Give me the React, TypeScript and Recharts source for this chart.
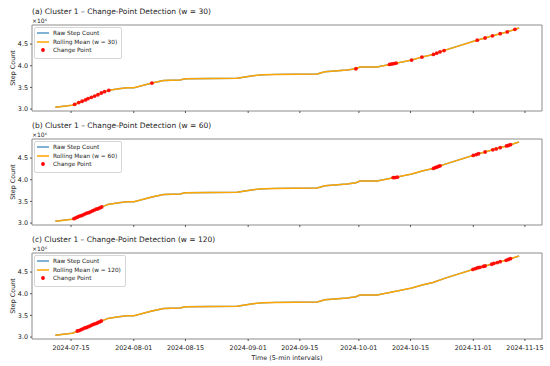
import { ComposedChart, Line, Scatter, XAxis, YAxis, ReferenceArea, Legend } from 'recharts';

const FONT = '"DejaVu Sans", sans-serif';
const RAW_COLOR = '#1f77b4';
const MEAN_COLOR = '#ffa500';
const CP_COLOR = '#ff0000';

// cumulative step count
const stepTimes = [
  '2024-07-10T18:00', '2024-07-15T07:00', '2024-07-15T17:00', '2024-07-25T00:00', '2024-07-27T22:00',
  '2024-07-30T05:00', '2024-08-01T00:00', '2024-08-05T22:00', '2024-08-09T02:00', '2024-08-13T12:00',
  '2024-08-15T00:00', '2024-08-29T00:00', '2024-09-02T07:00', '2024-09-05T00:00', '2024-09-08T07:00',
  '2024-09-19T17:00', '2024-09-21T19:00', '2024-09-27T19:00', '2024-09-30T05:00', '2024-10-01T07:00',
  '2024-10-05T22:00', '2024-10-09T10:00', '2024-10-15T07:00', '2024-10-18T02:00', '2024-10-21T02:00',
  '2024-10-24T10:00', '2024-11-02T00:00', '2024-11-04T05:00', '2024-11-06T05:00', '2024-11-08T07:00',
  '2024-11-10T05:00', '2024-11-12T07:00', '2024-11-13T10:00',
];
const stepCounts = [
  3040000, 3090000, 3100000, 3430000, 3470000,
  3490000, 3490000, 3600000, 3660000, 3670000,
  3700000, 3710000, 3770000, 3790000, 3800000,
  3810000, 3860000, 3900000, 3930000, 3970000,
  3970000, 4030000, 4130000, 4200000, 4260000,
  4360000, 4590000, 4640000, 4690000, 4740000,
  4780000, 4840000, 4870000,
];

const cp30Times = [
  '2024-07-16T00:00', '2024-07-17T02:00', '2024-07-18T00:00', '2024-07-18T22:00', '2024-07-19T14:00',
  '2024-07-20T12:00', '2024-07-21T10:00', '2024-07-22T07:00', '2024-07-23T05:00', '2024-07-24T02:00',
  '2024-07-25T05:00', '2024-08-05T22:00', '2024-09-30T05:00', '2024-10-09T07:00', '2024-10-09T22:00',
  '2024-10-10T12:00', '2024-10-11T02:00', '2024-10-15T07:00', '2024-10-18T02:00', '2024-10-21T05:00',
  '2024-10-22T02:00', '2024-10-23T00:00', '2024-10-24T02:00', '2024-11-02T02:00', '2024-11-04T05:00',
  '2024-11-06T05:00', '2024-11-08T07:00', '2024-11-10T05:00', '2024-11-12T07:00',
];
const cp30Values = [
  3110000, 3150000, 3180000, 3210000, 3240000,
  3270000, 3300000, 3330000, 3370000, 3400000,
  3430000, 3600000, 3930000, 4030000, 4040000,
  4050000, 4060000, 4130000, 4200000, 4260000,
  4290000, 4320000, 4350000, 4590000, 4640000,
  4690000, 4740000, 4780000, 4840000,
];

const cp60Times = [
  '2024-07-15T19:00', '2024-07-16T07:00', '2024-07-16T19:00', '2024-07-17T07:00', '2024-07-17T19:00',
  '2024-07-18T07:00', '2024-07-18T19:00', '2024-07-19T07:00', '2024-07-19T19:00', '2024-07-20T07:00',
  '2024-07-20T19:00', '2024-07-21T07:00', '2024-07-21T19:00', '2024-07-22T07:00', '2024-07-22T19:00',
  '2024-07-23T07:00', '2024-10-10T07:00', '2024-10-10T19:00', '2024-10-11T10:00', '2024-10-21T05:00',
  '2024-10-21T17:00', '2024-10-22T02:00', '2024-10-22T14:00', '2024-10-23T00:00', '2024-11-01T00:00',
  '2024-11-01T19:00', '2024-11-02T10:00', '2024-11-04T05:00', '2024-11-06T07:00', '2024-11-07T05:00',
  '2024-11-08T07:00', '2024-11-10T00:00', '2024-11-10T12:00', '2024-11-11T02:00',
];
const cp60Values = [
  3100000, 3120000, 3140000, 3160000, 3170000,
  3190000, 3210000, 3230000, 3240000, 3260000,
  3280000, 3300000, 3320000, 3330000, 3350000,
  3370000, 4050000, 4050000, 4060000, 4260000,
  4280000, 4290000, 4310000, 4320000, 4560000,
  4580000, 4600000, 4640000, 4690000, 4710000,
  4740000, 4780000, 4790000, 4810000,
];

const cp120Times = [
  '2024-07-16T17:00', '2024-07-17T05:00', '2024-07-17T17:00', '2024-07-18T05:00', '2024-07-18T17:00',
  '2024-07-19T05:00', '2024-07-19T17:00', '2024-07-20T05:00', '2024-07-20T17:00', '2024-07-21T05:00',
  '2024-07-21T17:00', '2024-07-22T05:00', '2024-07-22T17:00', '2024-07-23T05:00', '2024-10-31T22:00',
  '2024-11-01T14:00', '2024-11-02T05:00', '2024-11-02T19:00', '2024-11-03T17:00', '2024-11-04T05:00',
  '2024-11-06T00:00', '2024-11-06T14:00', '2024-11-07T12:00', '2024-11-08T07:00', '2024-11-09T22:00',
  '2024-11-10T12:00', '2024-11-11T02:00',
];
const cp120Values = [
  3140000, 3150000, 3170000, 3190000, 3210000,
  3220000, 3240000, 3260000, 3280000, 3300000,
  3310000, 3330000, 3350000, 3370000, 4560000,
  4580000, 4600000, 4610000, 4630000, 4640000,
  4680000, 4700000, 4720000, 4740000, 4770000,
  4790000, 4810000,
];

const xTickLabels = [
  '2024-07-15', '2024-08-01', '2024-08-15', '2024-09-01', '2024-09-15',
  '2024-10-01', '2024-10-15', '2024-11-01', '2024-11-15',
];
const yTicks = [3000000, 3500000, 4000000, 4500000];
const xRange = ['2024-07-04T10:00', '2024-11-19T15:00'];
const yRange = [2955000, 4940000];

const toMs = (s: string) => Date.parse(s.length === 10 ? s + 'T00:00Z' : s + 'Z');
const steps = stepTimes.map((t, i) => ({ t: toMs(t), v: stepCounts[i] }));
const xDomain = [toMs(xRange[0]), toMs(xRange[1])];
const xTicks = xTickLabels.map(toMs);

const panels = [
  { letter: 'a', w: 30, cpTimes: cp30Times, cpValues: cp30Values },
  { letter: 'b', w: 60, cpTimes: cp60Times, cpValues: cp60Values },
  { letter: 'c', w: 120, cpTimes: cp120Times, cpValues: cp120Values },
];

function fmtDate(ms: number) {
  return new Date(ms).toISOString().slice(0, 10);
}

function LegendBox({ w }: { w: number }) {
  const rows = [
    { name: 'Raw Step Count', dot: false, color: RAW_COLOR },
    { name: `Rolling Mean (w = ${w})`, dot: false, color: MEAN_COLOR },
    { name: 'Change Point', dot: true, color: CP_COLOR },
  ];
  return (
    <div style={{
      border: '1px solid #d6d6d6', borderRadius: 2, background: 'rgba(255,255,255,0.85)',
      padding: '1px 4px 3px 2px', fontFamily: FONT, fontSize: 5.8, color: '#222',
    }}>
      {rows.map(r => (
        <div key={r.name} style={{ display: 'flex', alignItems: 'center', height: 8.5, whiteSpace: 'nowrap' }}>
          <svg width={12} height={6} style={{ marginRight: 4, flex: 'none' }}>
            {r.dot
              ? <circle cx={6} cy={3} r={1.9} fill={r.color} />
              : <line x1={0} y1={3} x2={12} y2={3} stroke={r.color} strokeWidth={1.5} strokeOpacity={r.color === RAW_COLOR ? 0.75 : 1} />}
          </svg>
          {r.name}
        </div>
      ))}
    </div>
  );
}

const cpDot = (props: any) => <circle cx={props.cx} cy={props.cy} r={1.9} fill={CP_COLOR} fillOpacity={0.9} />;

function Panel({ letter, w, cpTimes, cpValues, top, last }: any) {
  const height = last ? 138 : 115;
  const cps = cpTimes.map((t: string, i: number) => ({ t: toMs(t), v: cpValues[i] }));
  return (
    <div style={{ position: 'absolute', left: 0, top, width: 550, height }}>
      <ComposedChart width={550} height={height} margin={{ top: 25, right: 8, bottom: last ? 5 : 0, left: 0 }}>
        <XAxis
          dataKey="t" type="number" domain={xDomain} ticks={xTicks} allowDataOverflow
          height={last ? 22 : 4} tickSize={2} tickMargin={4} axisLine={false}
          tickLine={{ stroke: '#555' }}
          tick={{ fontSize: 6.4, fill: '#222' }}
          tickFormatter={last ? fmtDate : () => ''}
          label={last ? { value: 'Time (5-min intervals)', position: 'insideBottom', offset: 1, style: { fontSize: 6.4, fill: '#222' } } : undefined}
        />
        <YAxis
          dataKey="v" type="number" domain={yRange} ticks={yTicks} allowDataOverflow
          width={32} tickSize={2} tickMargin={2} axisLine={false}
          tickLine={{ stroke: '#555' }}
          tick={{ fontSize: 6.4, fill: '#222' }}
          tickFormatter={(v: number) => (v / 1e6).toFixed(1)}
          label={{ value: 'Step Count', angle: -90, position: 'insideLeft', offset: 13, style: { fontSize: 6.4, fill: '#222', textAnchor: 'middle' } }}
        />
        <ReferenceArea x1={xDomain[0]} x2={xDomain[1]} y1={yRange[0]} y2={yRange[1]} fill="none" stroke="#8c8c8c" strokeWidth={1} ifOverflow="visible" />
        <Line data={steps} dataKey="v" type="linear" stroke={RAW_COLOR} strokeOpacity={0.75} strokeWidth={1.4} dot={false} isAnimationActive={false} />
        <Line data={steps} dataKey="v" type="linear" stroke={MEAN_COLOR} strokeWidth={1.5} dot={false} isAnimationActive={false} />
        <Scatter data={cps} dataKey="v" shape={cpDot} isAnimationActive={false} />
        <Legend
          layout="vertical" align="center" verticalAlign="middle"
          wrapperStyle={{ left: 34, top: 27, width: 'auto', height: 'auto' }}
          content={() => <LegendBox w={w} />}
        />
      </ComposedChart>
      <div style={{ position: 'absolute', left: 32, top: 8, fontSize: 7.5, lineHeight: 1, whiteSpace: 'nowrap', color: '#222' }}>
        ({letter}) Cluster 1 – Change-Point Detection (w = {w})
      </div>
      <div style={{ position: 'absolute', left: 32, top: 17.6, fontSize: 6, lineHeight: 1, whiteSpace: 'nowrap', color: '#222' }}>
        ×10⁶
      </div>
    </div>
  );
}

export default function App() {
  return (
    <div style={{ position: 'relative', width: 550, height: 366, background: '#fff', fontFamily: FONT, overflow: 'hidden' }}>
      <style>{'body{margin:0}'}</style>
      {panels.map((p, i) => (
        <Panel key={p.letter} {...p} top={i * 114} last={i === panels.length - 1} />
      ))}
    </div>
  );
}
